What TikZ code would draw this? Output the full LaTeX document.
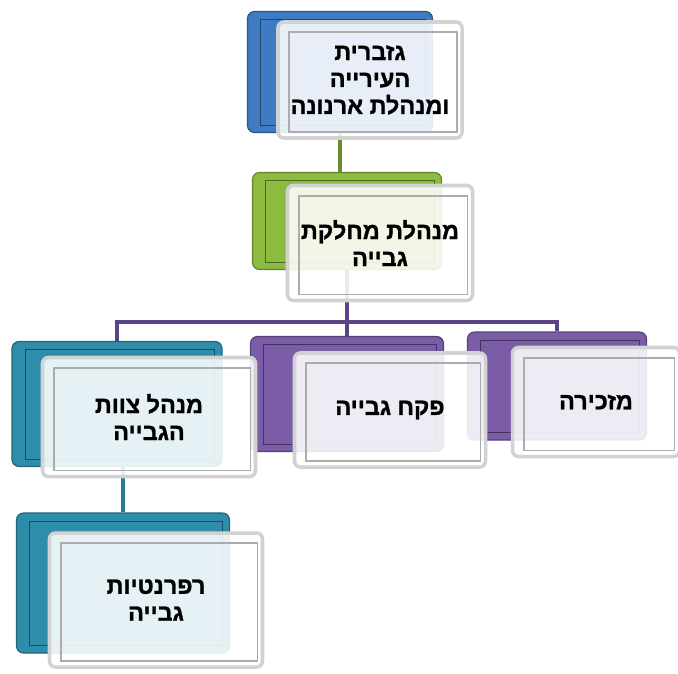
\documentclass[tikz,border=0pt]{standalone}
\usepackage{fontspec}
\newfontfamily\hebfont[Script=Hebrew, BoldFont={Liberation Sans Bold}, BoldFeatures={FakeBold=1.2}]{Liberation Sans}
\TeXXeTstate=1
\usetikzlibrary{backgrounds}

\definecolor{blueC}{HTML}{3F7BC2}
\definecolor{greenC}{HTML}{8DBB40}
\definecolor{purpC}{HTML}{7A5DA6}
\definecolor{tealC}{HTML}{2E8EAA}
\definecolor{oliveL}{HTML}{6E8B2C}
\definecolor{purpL}{HTML}{5A4486}
\definecolor{tealL}{HTML}{2A7C92}

\newcommand\pu{0.03cm}
\newcommand\heb[1]{\beginR#1\endR}

\tikzset{
  backbox/.style={draw=#1!70!black, fill=#1, line width=1pt, rounded corners=6pt},
  frontbox/.style={draw=gray!35, line width=3pt, rounded corners=5pt,
    fill=white, fill opacity=0.88, text opacity=1, align=center,
    font=\hebfont\bfseries\fontsize{20}{23}\selectfont},
  innerframe/.style={draw=gray!65, line width=1.3pt},
  link/.style={draw=#1, line width=3pt},
}

\begin{document}
\begin{tikzpicture}[x=\pu,y=-\pu]
  \useasboundingbox (0,0) rectangle (678,673);

  % colored boxes behind
  \node[backbox=blueC, minimum width=185*\pu, minimum height=121*\pu] (top-back) at (340,72) {};
  \node[backbox=greenC, minimum width=189*\pu, minimum height=97*\pu] (green-back) at (347,221) {};
  \node[backbox=tealC, minimum width=210*\pu, minimum height=125*\pu] (team-back) at (117,404) {};
  \node[backbox=purpC, minimum width=193*\pu, minimum height=115*\pu] (pakah-back) at (347,394) {};
  \node[backbox=purpC, minimum width=179*\pu, minimum height=108*\pu] (sec-back) at (557,386) {};
  \node[backbox=tealC, minimum width=213*\pu, minimum height=140*\pu] (ref-back) at (123,583) {};

  \foreach \n/\c in {top-back/blueC, green-back/greenC, team-back/tealC,
                     pakah-back/purpC, sec-back/purpC, ref-back/tealC}
    \draw[draw=\c!55!black, line width=0.8pt]
      ([shift={(14,9)}]\n.north west) rectangle ([shift={(-8,-8)}]\n.south east);

  % white boxes in front
  \node[frontbox, minimum width=184*\pu, minimum height=116*\pu] (top) at (370,80)
    {\heb{גזברית}\\ \heb{העירייה}\\ \heb{ומנהלת ארנונה}};
  \node[frontbox, minimum width=185*\pu, minimum height=115*\pu] (green) at (380,243)
    {\heb{מנהלת מחלקת}\\ \heb{גבייה}};
  \node[frontbox, minimum width=213*\pu, minimum height=119*\pu] (team) at (149,417)
    {\heb{מנהל צוות}\\ \heb{הגבייה}};
  \node[frontbox, minimum width=191*\pu, minimum height=114*\pu] (pakah) at (390,410)
    {\heb{פקח גבייה}};
  \node[frontbox, minimum width=167*\pu, minimum height=109*\pu] (sec) at (596,402)
    {\heb{מזכירה}};
  \node[frontbox, minimum width=213*\pu, minimum height=134*\pu] (ref) at (156,600)
    {\heb{רפרנטיות}\\ \heb{גבייה}};

  \foreach \n in {top, green, team, pakah, sec, ref}
    \draw[innerframe] ([shift={(13,12)}]\n.north west) rectangle ([shift={(-7,-8)}]\n.south east);

  \coordinate (bus) at (green-back.south |- 0,322);

  \begin{scope}[on background layer]
    \draw[link=oliveL] (top-back.south) -- (top-back.south |- green-back.north);
    \draw[link=purpL] (green-back.south) -- (pakah-back.north);
    \draw[link=purpL] (team-back.north) |- (bus) -| (sec-back.north);
    \draw[link=tealL] (ref-back.north |- team-back.south) -- (ref-back.north);
  \end{scope}
\end{tikzpicture}
\end{document}
